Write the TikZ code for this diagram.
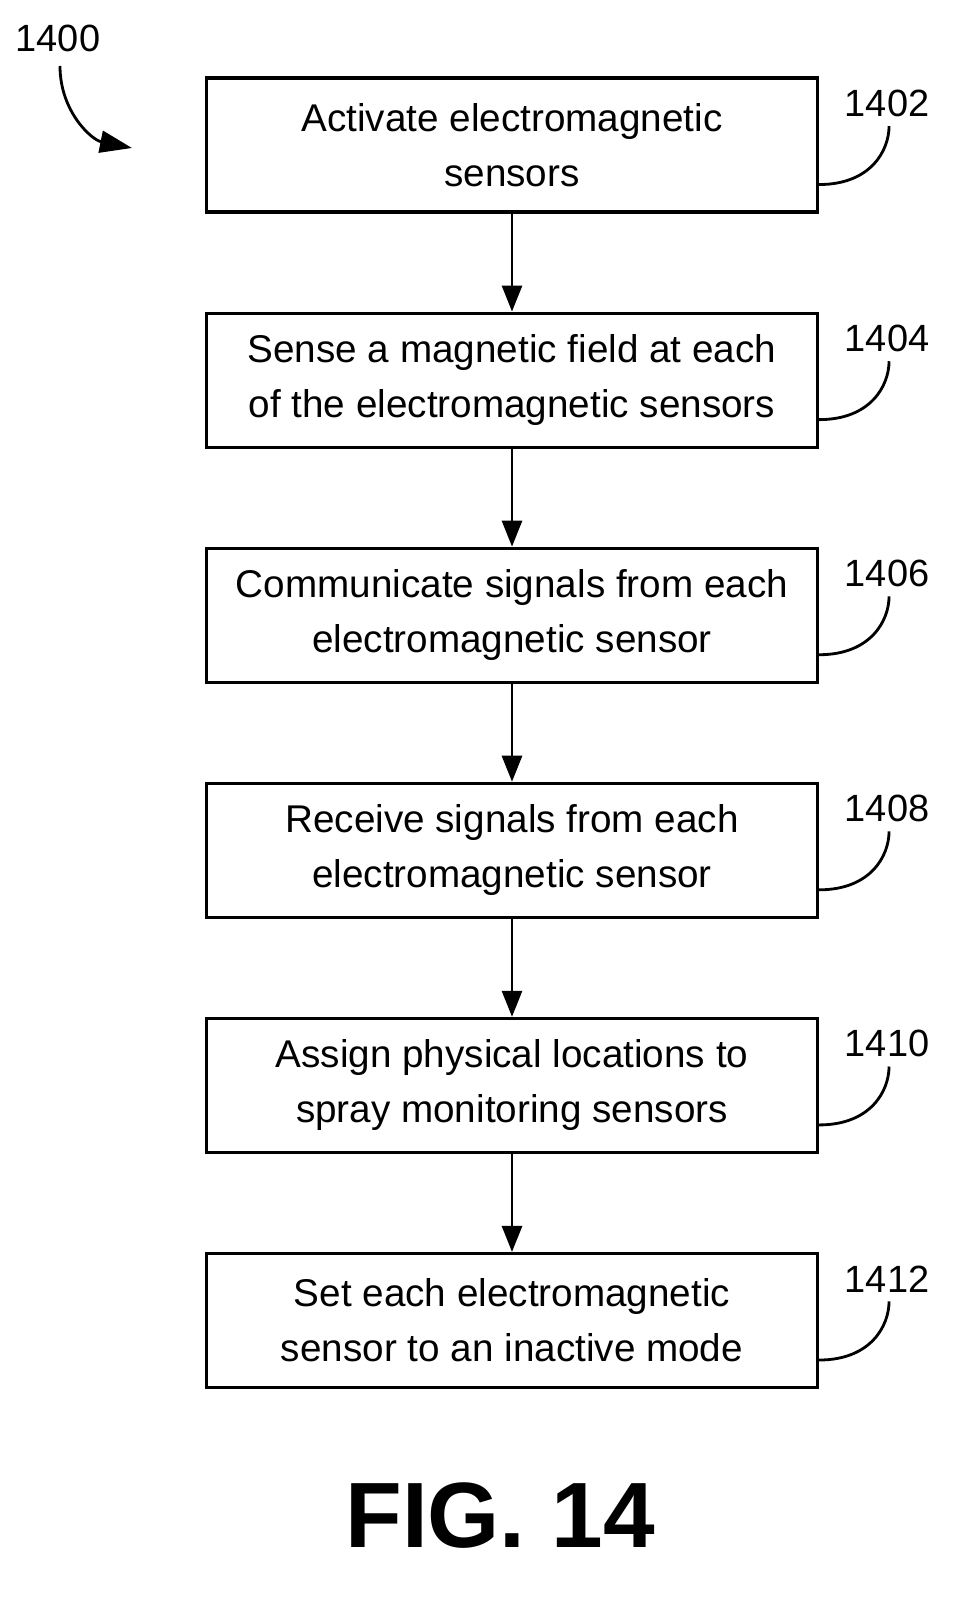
\documentclass[tikz,border=0pt]{standalone}
\usepackage{fontspec}
\setmainfont{Liberation Sans}
\usetikzlibrary{arrows.meta}
\usetikzlibrary{positioning}
\usetikzlibrary{calc}

\begin{document}
\begin{tikzpicture}[node distance=2.45cm, thick,
        step_style/.style={rectangle,draw=black,line width=2.2pt,minimum width=15.275cm,minimum height=3.35cm,align=center,font=\fontsize{27.5}{39}\selectfont},
        ref_style/.style={font=\fontsize{27}{30}\selectfont},
        lead_style/.style={draw=black, line width=2pt}]
        \useasboundingbox (0,0) rectangle (24.275,-40.25);

        \node [step_style](s1) at (12.8,-3.625) {Activate electromagnetic\\sensors};
        \node [step_style,below=of s1](s2) {Sense a magnetic field at each\\of the electromagnetic sensors};
        \node [step_style,below=of s2](s3) {Communicate signals from each\\electromagnetic sensor};
        \node [step_style,below=of s3](s4) {Receive signals from each\\electromagnetic sensor};
        \node [step_style,below=of s4](s5) {Assign physical locations to\\spray monitoring sensors};
        \node [step_style,below=of s5](s6) {Set each electromagnetic\\sensor to an inactive mode};

        \foreach \i/\n in {1/1402,2/1404,3/1406,4/1408,5/1410,6/1412}{
            \node [ref_style](r\i) at ($(s\i.north east)+(1.7,-0.675)$) {\n};
            \draw [lead_style] ($(s\i.south east)+(0,0.725)$) .. controls +(1.3,0) and +(0,-0.6) .. ($(r\i.south)+(0.05,-0.1)$);
        }
        \foreach \a/\b in {s1/s2,s2/s3,s3/s4,s4/s5,s5/s6}
            \draw [lead_style,-{Triangle[length=0.65cm,width=0.5cm]}] (\a) -- (\b);

        \node [ref_style](fig) at (1.45,-0.95) {1400};
        \coordinate (tip) at (3.3,-3.7);
        \draw [lead_style,-{Triangle[length=0.8cm,width=0.55cm]}] (1.5,-1.65) .. controls (1.5,-2.8) and (2.3,-3.5) .. (tip);

        \node [font=\fontsize{66}{74}\selectfont\bfseries](title) at (12.5,-37.9) {FIG. 14};
\end{tikzpicture}
\end{document}
